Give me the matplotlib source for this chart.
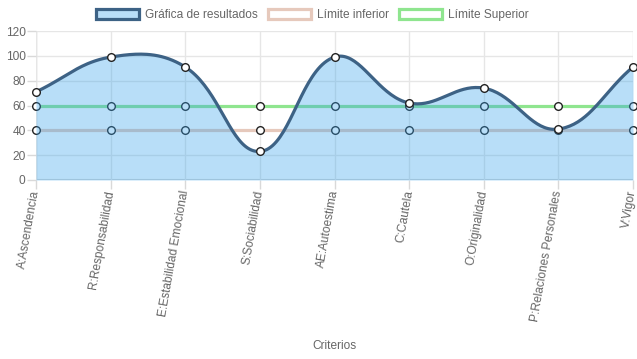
import numpy as np
import matplotlib
matplotlib.use('Agg')
import matplotlib.pyplot as plt
from matplotlib.patches import Patch

plt.rcParams['font.family'] = ['Liberation Sans', 'DejaVu Sans']

# datos
criterios = ['A:Ascendencia', 'R:Responsabilidad', 'E:Estabilidad Emocional',
             'S:Sociabilidad', 'AE:Autoestima', 'C:Cautela', 'O:Originalidad',
             'P:Relaciones Personales', 'V:Vigor']
resultados = [71, 99, 91, 23, 99, 62, 74, 41, 91]
limite_inferior = [40] * 9
limite_superior = [60] * 9

y_ticks = [0, 20, 40, 60, 80, 100, 120]

# colores
c_line = '#3d6285'
c_fill = (54 / 255, 162 / 255, 235 / 255, 0.35)
c_inf = '#e6c9bc'
c_sup = '#8fe58f'
c_text = '#666666'
c_grid = '#e6e6e6'

W, H = 637, 359
fig = plt.figure(figsize=(W / 100, H / 100), dpi=100)
ax = fig.add_axes([36 / W, 1 - 180 / H, (633 - 36) / W, (180 - 31) / H])

xs = np.arange(len(criterios), dtype=float)
ymin, ymax = 0, 120
ax.set_xlim(0, len(criterios) - 1)
ax.set_ylim(ymin, ymax)

# escala px para la curva (como chart.js)
sx = ax.get_position().width * W / (len(criterios) - 1)
sy = ax.get_position().height * H / (ymax - ymin)


def spline(xv, yv, t=0.4, n=40):
    px = np.asarray(xv) * sx
    py = np.asarray(yv, dtype=float) * sy
    m = len(px)
    cp_prev, cp_next = [], []
    for i in range(m):
        a = max(i - 1, 0)
        b = min(i + 1, m - 1)
        d01 = np.hypot(px[i] - px[a], py[i] - py[a])
        d12 = np.hypot(px[b] - px[i], py[b] - py[i])
        s01 = d01 / (d01 + d12) if d01 + d12 else 0
        s12 = d12 / (d01 + d12) if d01 + d12 else 0
        fa, fb = t * s01, t * s12
        dx, dy = px[b] - px[a], py[b] - py[a]
        pcx, pcy = px[i] - fa * dx, py[i] - fa * dy
        ncx, ncy = px[i] + fb * dx, py[i] + fb * dy
        # limitar al area del grafico
        pcy = np.clip(pcy, ymin * sy, ymax * sy)
        ncy = np.clip(ncy, ymin * sy, ymax * sy)
        cp_prev.append((pcx, pcy))
        cp_next.append((ncx, ncy))
    outx, outy = [], []
    tt = np.linspace(0, 1, n)
    for i in range(m - 1):
        p0 = np.array([px[i], py[i]])
        p1 = np.array(cp_next[i])
        p2 = np.array(cp_prev[i + 1])
        p3 = np.array([px[i + 1], py[i + 1]])
        for u in tt[:-1] if i < m - 2 else tt:
            q = ((1 - u) ** 3) * p0 + 3 * ((1 - u) ** 2) * u * p1 + 3 * (1 - u) * u ** 2 * p2 + u ** 3 * p3
            outx.append(q[0] / sx)
            outy.append(q[1] / sy)
    return np.array(outx), np.array(outy)


cx, cy = spline(xs, resultados)

# grid
ax.set_yticks(y_ticks)
ax.set_xticks(xs)
ax.grid(True, color=c_grid, linewidth=1, zorder=0)
for s in ax.spines.values():
    s.set_visible(False)
ax.axhline(0, color='#d4d4d4', linewidth=1.5, zorder=1)
ax.axvline(0, color='#d9d9d9', linewidth=1, zorder=1)

# limites (debajo del relleno)
mk = dict(marker='o', markersize=5.5, markerfacecolor='white', markeredgecolor='#222222',
          markeredgewidth=1, clip_on=False)
ax.plot(xs, limite_inferior, color=c_inf, linewidth=2.3, zorder=2, **mk)
ax.plot(xs, limite_superior, color=c_sup, linewidth=2.3, zorder=2, **mk)

# resultados
ax.fill_between(cx, cy, 0, color=c_fill, linewidth=0, zorder=3)
ax.plot(cx, cy, color=c_line, linewidth=2.3, zorder=4, solid_capstyle='round')
ax.plot(xs, resultados, linestyle='none', zorder=5, **mk)

ax.tick_params(axis='both', colors='#d9d9d9', labelcolor=c_text, labelsize=8.6,
               length=6.5, width=1)
ax.tick_params(axis='y', pad=1)
ax.tick_params(axis='x', pad=1)
ax.set_xticklabels(criterios, rotation=80, ha='right', va='center', rotation_mode='anchor')

fig.text(334 / W, 1 - 346 / H, 'Criterios', ha='center', va='center', color=c_text, fontsize=8.6)

handles = [
    Patch(facecolor='#b9def8', edgecolor=c_line, linewidth=2.3, label='Gráfica de resultados'),
    Patch(facecolor='white', edgecolor=c_inf, linewidth=2.3, label='Límite inferior'),
    Patch(facecolor='white', edgecolor=c_sup, linewidth=2.3, label='Límite Superior'),
]
leg = fig.legend(handles=handles, loc='center', bbox_to_anchor=(312 / W, 1 - 15 / H), ncol=3,
                 frameon=False, fontsize=8.6, handlelength=3.6, handleheight=0.9,
                 handletextpad=0.5, columnspacing=0.85, borderpad=0)
for t in leg.get_texts():
    t.set_color(c_text)

fig.savefig('out.png', dpi=100)
